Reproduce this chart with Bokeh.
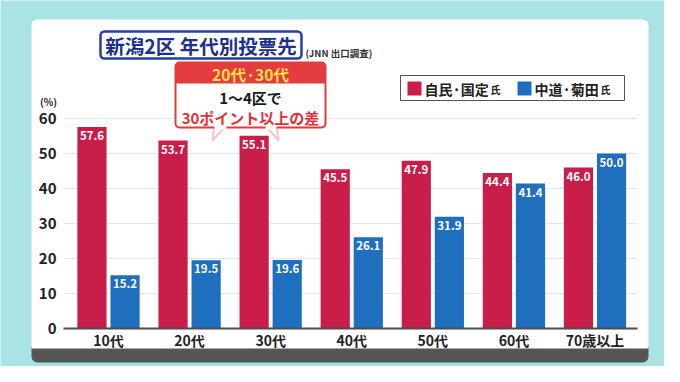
from bokeh.plotting import figure
from bokeh.models import (ColumnDataSource, Range1d, FixedTicker, BoxAnnotation,
                          Label, PolyAnnotation)
from bokeh.core.properties import value
from bokeh.embed import file_html
from bokeh.resources import INLINE

# ---- data ----
categories = ["10代", "20代", "30代", "40代", "50代", "60代", "70歳以上"]
series_names = ["自民·国定", "中道·菊田"]
ldp_values = [57.6, 53.7, 55.1, 45.5, 47.9, 44.4, 46.0]
cdp_values = [15.2, 19.5, 19.6, 26.1, 31.9, 41.4, 50.0]
y_ticks = [0, 10, 20, 30, 40, 50, 60]

RED = "#c91d4a"
BLUE = "#1f6fbf"
TEAL = "#a9e3e3"
FONT = "Noto Sans CJK JP"

W, H = 664, 366
# plot-area layout in canvas pixels (frame covers whole canvas)
PX_L, PX_R = 63, 637          # x-axis extent in pixels
X_L, X_R = -0.555, 6.524      # data values at those pixels
PX_Y0, PX_PER_UNIT = 328, 3.5 # pixel of y=0, pixels per percent

xs = (X_R - X_L) / (PX_R - PX_L)
x_start = X_L - PX_L * xs
x_end = X_L + (W - PX_L) * xs
y_end = PX_Y0 / PX_PER_UNIT
y_start = -(H - PX_Y0) / PX_PER_UNIT

idx = list(range(len(categories)))
src = ColumnDataSource(dict(
    x_red=[i - 0.204 for i in idx],
    x_blue=[i + 0.204 for i in idx],
    red=ldp_values, blue=cdp_values,
    red_lbl=[f"{v:.1f}" for v in ldp_values],
    blue_lbl=[f"{v:.1f}" for v in cdp_values],
))

p = figure(width=W, height=H, output_backend="svg", toolbar_location=None,
           x_range=Range1d(x_start, x_end), y_range=Range1d(y_start, y_end),
           min_border=0, min_border_left=0, min_border_right=0,
           min_border_top=0, min_border_bottom=0)
p.border_fill_color = TEAL
p.background_fill_color = TEAL
p.outline_line_color = None
p.grid.visible = False

def cbox(l, r, t, b, fill, line=None, lw=1, radius=0, level="overlay"):
    p.add_layout(BoxAnnotation(left=l, right=r, top=t, bottom=b,
                               left_units="canvas", right_units="canvas",
                               top_units="canvas", bottom_units="canvas",
                               fill_color=fill, fill_alpha=1,
                               line_color=line, line_width=lw, line_alpha=1,
                               border_radius=radius, level=level))

def lab(x, y, text, size, color="#222222", align="left", baseline="middle", style="bold"):
    p.add_layout(Label(x=x, y=y, x_units="canvas", y_units="canvas", text=text,
                       text_font=FONT, text_font_size=size, text_font_style=style,
                       text_color=color, text_align=align, text_baseline=baseline,
                       level="overlay"))

# card
cbox(31, 648, 346, 362, "#555555", radius=[0, 0, 6, 6], level="image")
cbox(31, 648, 19, 348, "white", radius=[6, 6, 0, 0], level="image")

# bars
p.vbar(x="x_red", top="red", width=0.36, source=src, fill_color=RED, line_color=None)
p.vbar(x="x_blue", top="blue", width=0.36, source=src, fill_color=BLUE, line_color=None)
for xcol, ycol, lcol in (("x_red", "red", "red_lbl"), ("x_blue", "blue", "blue_lbl")):
    p.text(x=xcol, y=ycol, text=lcol, source=src, text_align="center",
           text_baseline="top", y_offset=4, text_color="white",
           text_font=value(FONT), text_font_style="bold", text_font_size="11.5px")

# axes (fixed inside the frame)
xa = p.xaxis[0]
xa.fixed_location = 0
xa.bounds = (X_L, X_R)
xa.ticker = FixedTicker(ticks=idx)
xa.major_label_overrides = {i: c for i, c in enumerate(categories)}
xa.major_tick_line_color = None
xa.major_tick_out = 0
xa.major_tick_in = 0
xa.minor_tick_line_color = None
xa.axis_line_color = "#4d4d4d"
xa.axis_line_width = 2
xa.major_label_text_font = FONT
xa.major_label_text_font_style = "bold"
xa.major_label_text_font_size = "14px"
xa.major_label_text_color = "#222222"
xa.major_label_standoff = 1

ya = p.yaxis[0]
ya.fixed_location = X_L
ya.bounds = (0, 60)
ya.level = "underlay"
ya.ticker = FixedTicker(ticks=y_ticks)
ya.axis_line_color = None
ya.major_tick_in = PX_R - PX_L
ya.major_tick_out = 0
ya.major_tick_line_color = "#e6e6e6"
ya.major_tick_line_width = 1
ya.minor_tick_line_color = None
ya.major_label_text_font = FONT
ya.major_label_text_font_style = "bold"
ya.major_label_text_font_size = "15px"
ya.major_label_text_color = "#222222"
ya.major_label_standoff = 7

# y unit
lab(48, 101, "(%)", "10px", align="center")

# title
cbox(100, 301, 31, 58, "white", "#2440a4", 2.5, 4)
lab(200.5, 45, "新潟2区 年代別投票先", "19.5px", color="#1d2f8f", align="center")
lab(305, 52, "(JNN 出口調査)", "9.5px", color="#333333")

# callout
CR = "#e03a3e"
for pts in (([214, 226, 212], [125, 125, 140]), ([265, 276, 278], [125, 125, 140])):
    p.add_layout(PolyAnnotation(xs=pts[0], ys=pts[1], xs_units="canvas",
                                ys_units="canvas", fill_color="white", fill_alpha=1,
                                line_color=CR, line_width=2, level="overlay"))
cbox(175, 325, 62, 127, "white", CR, 2, 4)
cbox(214, 226, 123, 129, "white")
cbox(265, 276, 123, 129, "white")
cbox(175, 325, 62, 83, "#e53c3f", None, 0, [4, 4, 0, 0])
lab(250, 73, "20代·30代", "15.5px", color="#ffe04a", align="center")
lab(250, 97, "1〜4区で", "15px", color="#1a1a1a", align="center")
lab(250, 116.5, "30ポイント以上の差", "15px", color="#e0303a", align="center")

# legend
cbox(400, 624, 75, 100, "white", "#555555", 1)
cbox(407, 421, 81, 95, RED)
lab(424, 88, series_names[0], "14px")
lab(490, 89, "氏", "10px")
cbox(517, 531, 81, 95, BLUE)
lab(534, 88, series_names[1], "14px")
lab(600, 89, "氏", "10px")

open("out.html", "w").write(file_html(p, INLINE))
